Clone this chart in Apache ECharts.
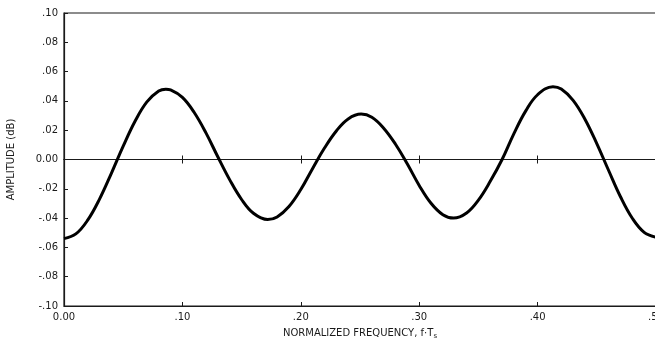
<!DOCTYPE html>
<html>
<head>
<meta charset="utf-8">
<script src="https://cdn.jsdelivr.net/npm/echarts@6/dist/echarts.min.js"></script>
<style>html,body{margin:0;padding:0;background:#fff}#c{width:655px;height:346px}</style>
</head>
<body>
<div id="c"></div>
<script>
// Normalized frequency (x) and amplitude in dB (y)
const freq = [0.000,0.010,0.020,0.030,0.040,0.050,0.060,0.070,0.080,0.086,0.090,0.100,0.110,0.120,0.130,0.140,0.150,0.160,0.172,0.180,0.190,0.200,0.210,0.220,0.230,0.240,0.251,0.260,0.270,0.280,0.290,0.300,0.310,0.320,0.329,0.340,0.350,0.360,0.370,0.380,0.390,0.400,0.413,0.420,0.430,0.440,0.450,0.460,0.470,0.480,0.490,0.500];
const ampl = [-0.054,-0.0508,-0.0414,-0.027,-0.0094,0.0091,0.0261,0.0393,0.0467,0.048,0.0475,0.0424,0.0321,0.018,0.0017,-0.0139,-0.0273,-0.0367,-0.041,-0.0392,-0.0321,-0.0205,-0.0061,0.0078,0.0195,0.0277,0.031,0.0288,0.0214,0.0104,-0.0031,-0.0177,-0.0299,-0.0377,-0.040,-0.0365,-0.0277,-0.0149,0.000,0.0177,0.0332,0.0442,0.0497,0.0481,0.0404,0.0275,0.0108,-0.0075,-0.0254,-0.0401,-0.0497,-0.053];
const xTickValues = [0, 0.1, 0.2, 0.3, 0.4, 0.5];
const xTickLabels = ['0.00', '.10', '.20', '.30', '.40', '.50'];
const yTickValues = [-0.10,-0.08,-0.06,-0.04,-0.02,0,0.02,0.04,0.06,0.08,0.10];
const yTickLabels = ['-.10','-.08','-.06','-.04','-.02','0.00','.02','.04','.06','.08','.10'];
const yName = 'AMPLITUDE (dB)';
const xName = 'NORMALIZED FREQUENCY, f·T';

const ink = '#1a1a1a';
const fontFam = 'DejaVu Sans, Liberation Sans, sans-serif';
function lookup(vals, labels, v) {
  for (let i = 0; i < vals.length; i++) if (Math.abs(vals[i] - v) < 1e-6) return labels[i];
  return '';
}
const zeroOffset = -146.5;
const chart = echarts.init(document.getElementById('c'));
const baseX = {type: 'value', min: 0, max: 0.5, interval: 0.1, splitLine: {show: false}};
chart.setOption({
  animation: false,
  grid: {left: 64, right: -1, top: 13, bottom: 40, containLabel: false, outerBoundsMode: 'none',
    show: true, borderColor: ink, borderWidth: 1.2, backgroundColor: 'transparent'},
  xAxis: [
    Object.assign({}, baseX, {
      position: 'bottom',
      axisLine: {onZero: false, lineStyle: {color: ink, width: 1.2}},
      axisTick: {inside: true, length: 4, lineStyle: {color: ink}},
      axisLabel: {color: ink, fontSize: 10, fontFamily: fontFam, margin: 6, showMaxLabel: true,
        formatter: v => lookup(xTickValues, xTickLabels, v)},
      name: xName + '{s|s}',
      nameLocation: 'middle', nameGap: 21,
      nameTextStyle: {color: ink, fontSize: 10, fontFamily: fontFam, rich: {s: {fontSize: 7, fontFamily: fontFam, color: ink, verticalAlign: 'bottom', padding: [6, 0, 0, 0]}}}
    }),
    Object.assign({}, baseX, {
      position: 'bottom', offset: zeroOffset,
      axisLine: {onZero: false, lineStyle: {color: ink, width: 1.2}},
      axisTick: {inside: true, length: 4, lineStyle: {color: ink}},
      axisLabel: {show: false}
    }),
    Object.assign({}, baseX, {
      position: 'top', offset: zeroOffset,
      axisLine: {onZero: false, lineStyle: {color: ink, width: 1.2}},
      axisTick: {inside: true, length: 4, lineStyle: {color: ink}},
      axisLabel: {show: false}
    })
  ],
  yAxis: {
    type: 'value', min: -0.1, max: 0.1, interval: 0.02,
    axisLine: {onZero: false, lineStyle: {color: ink, width: 1.2}},
    axisTick: {inside: true, length: 4, lineStyle: {color: ink}},
    splitLine: {show: false},
    axisLabel: {color: ink, fontSize: 10, fontFamily: fontFam, margin: 6,
      formatter: v => lookup(yTickValues, yTickLabels, v)},
    name: yName, nameLocation: 'middle', nameGap: 48, nameRotate: 90,
    nameTextStyle: {color: ink, fontSize: 10, fontFamily: fontFam}
  },
  series: [{
    type: 'line', xAxisIndex: 0,
    data: freq.map((f, i) => [f, ampl[i]]),
    smooth: 0.4, symbol: 'none',
    lineStyle: {color: '#000', width: 3}
  }]
});
</script>
</body>
</html>
